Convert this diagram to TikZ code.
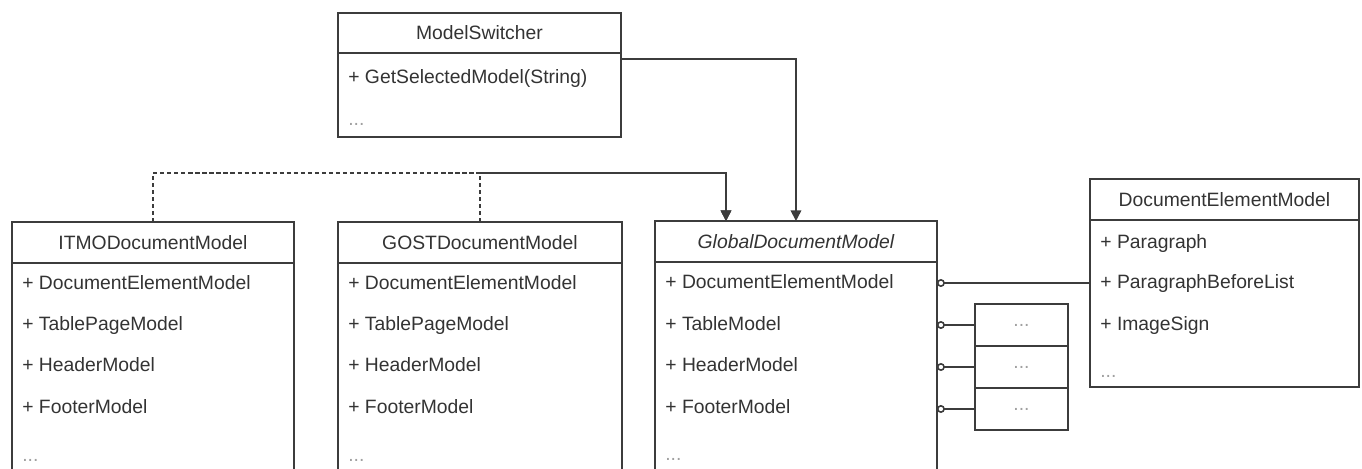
\documentclass[tikz,border=0pt]{standalone}
\usepackage{fontspec}
\setmainfont{Liberation Sans}
\usepackage{tikz}
\usetikzlibrary{arrows.meta}
\definecolor{lineC}{HTML}{3C3C3C}
\definecolor{textC}{HTML}{333333}
\definecolor{dotsC}{HTML}{A0A0A0}

\begin{document}
\begin{tikzpicture}[x=0.02cm, y=-0.02cm,
    every node/.style={font=\fontsize{11}{13}\selectfont, text=textC},
    head/.style={draw=lineC, line width=0.9pt, anchor=north west, inner sep=0pt, outer sep=0pt, minimum height=0.82cm},
    body/.style={draw=lineC, line width=0.9pt, anchor=north west, inner sep=0pt, outer sep=0pt},
    item/.style={anchor=west, inner sep=0pt, text height=8pt, text depth=2.2pt},
    more/.style={item, text=dotsC},
    dep/.style={draw=lineC, line width=0.9pt, dash pattern=on 2.4pt off 1.6pt, -{Triangle[length=6pt,width=6pt]}},
    uses/.style={draw=lineC, line width=0.9pt, -{Triangle[length=6pt,width=6pt]}},
    agg/.style={draw=lineC, line width=0.9pt, {Circle[open,length=4.5pt]}-}]
  \useasboundingbox (0,0) rectangle (1362,468);
  \clip (0,0) rectangle (1362,468);

  % switcher
  \node[body, minimum width=5.66cm, minimum height=1.68cm] (msb) at (338,53) {};
  \node[head, minimum width=5.66cm, minimum height=0.8cm] (ms) at (338,13) {ModelSwitcher};
  \node[item] (ms1) at (348,78) {+ GetSelectedModel(String)};
  \node[more] (ms2) at (348,120) {...};

  % ITMO
  \node[body, minimum width=5.64cm, minimum height=5.2cm] (itmob) at (12,263) {};
  \node[head, minimum width=5.64cm] (itmo) at (12,222) {ITMODocumentModel};
  \node[item] (i1) at (22,284) {+ DocumentElementModel};
  \node[item] (i2) at (22,325) {+ TablePageModel};
  \node[item] (i3) at (22,366) {+ HeaderModel};
  \node[item] (i4) at (22,408) {+ FooterModel};
  \node[more] (i5) at (22,456) {...};

  % GOST
  \node[body, minimum width=5.68cm, minimum height=5.2cm] (gostb) at (338,263) {};
  \node[head, minimum width=5.68cm] (gost) at (338,222) {GOSTDocumentModel};
  \node[item] (o1) at (348,284) {+ DocumentElementModel};
  \node[item] (o2) at (348,325) {+ TablePageModel};
  \node[item] (o3) at (348,366) {+ HeaderModel};
  \node[item] (o4) at (348,408) {+ FooterModel};
  \node[more] (o5) at (348,456) {...};

  % global (abstract)
  \node[body, minimum width=5.64cm, minimum height=5.2cm] (glbb) at (655,262) {};
  \node[head, minimum width=5.64cm] (glb) at (655,221) {\itshape GlobalDocumentModel};
  \node[item] (g1) at (665,283) {+ DocumentElementModel};
  \node[item] (g2) at (665,325) {+ TableModel};
  \node[item] (g3) at (665,366) {+ HeaderModel};
  \node[item] (g4) at (665,408) {+ FooterModel};
  \node[more] (g5) at (665,455) {...};

  % elements
  \node[body, minimum width=5.38cm, minimum height=3.34cm] (demb) at (1090,220) {};
  \node[head, minimum width=5.38cm] (dem) at (1090,179) {DocumentElementModel};
  \node[item] (d1) at (1100,243) {+ Paragraph};
  \node[item] (d2) at (1100,283) {+ ParagraphBeforeList};
  \node[item] (d3) at (1100,325) {+ ImageSign};
  \node[more] (d4) at (1100,372) {...};

  \node[body, minimum width=1.86cm, minimum height=0.84cm, text=dotsC] (sm1) at (975,304) {...};
  \node[body, minimum width=1.86cm, minimum height=0.84cm, text=dotsC] (sm2) at (sm1.south west) {...};
  \node[body, minimum width=1.86cm, minimum height=0.84cm, text=dotsC] (sm3) at (sm2.south west) {...};

  \coordinate (bus) at (0,173);
  \draw[dep] (itmo.north) -- (itmo.north |- bus) -| ([xshift=1.42cm]glb.north west);
  \draw[dep] (gost.north) -- (gost.north |- bus) -| ([xshift=1.42cm]glb.north west);
  \draw[uses] (msb.north east) ++(0,6) -| (glb.north);

  \draw[agg] (glbb.east |- g1) -- (demb.west |- g1);
  \draw[agg] (glbb.east |- sm1.west) -- (sm1.west);
  \draw[agg] (glbb.east |- sm2.west) -- (sm2.west);
  \draw[agg] (glbb.east |- sm3.west) -- (sm3.west);
\end{tikzpicture}
\end{document}
